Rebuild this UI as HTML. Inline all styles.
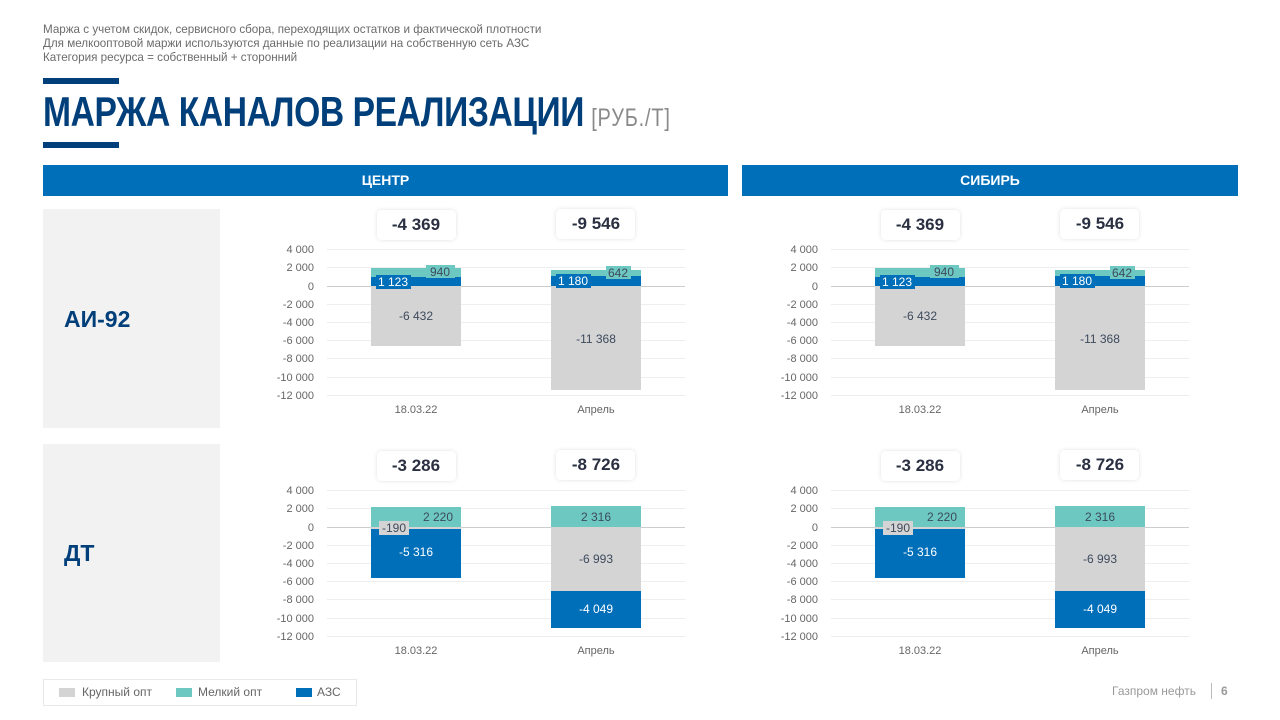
<!DOCTYPE html>
<html><head><meta charset="utf-8"><style>
*{margin:0;padding:0;box-sizing:border-box}
body{width:1280px;height:720px;background:#fff;position:relative;overflow:hidden;font-family:"Liberation Sans",sans-serif}
.a{position:absolute}
.sub{left:43px;font-size:12px;color:#6b6b6b;line-height:14px;transform:scaleX(0.97);transform-origin:left;white-space:nowrap}
.bar{background:#003f7a;height:6px;width:76px;left:43px}
.hdr{background:#006fba;color:#fff;font-weight:bold;font-size:14px;text-align:center;line-height:31px;top:165px;height:31px}
.gp{background:#f2f2f2;left:43px;width:177px}
.rl{left:64px;color:#003f7a;font-weight:bold;font-size:23px}
</style></head><body>
<div class="a sub" style="top:22px">Маржа с учетом скидок, сервисного сбора, переходящих остатков и фактической плотности</div>
<div class="a sub" style="top:36px">Для мелкооптовой маржи используются данные по реализации на собственную сеть АЗС</div>
<div class="a sub" style="top:50px">Категория ресурса = собственный + сторонний</div>
<div class="a bar" style="top:78px"></div>
<div class="a bar" style="top:142px"></div>
<div class="a" style="left:43px;top:88px;white-space:nowrap;transform:scaleX(0.8);transform-origin:left"><span style="font-size:42px;font-weight:bold;color:#003f7a;letter-spacing:-0.5px">МАРЖА КАНАЛОВ РЕАЛИЗАЦИИ</span><span style="font-size:25px;color:#8a8a8a;margin-left:9px;letter-spacing:1px">[РУБ./Т]</span></div>
<div class="a hdr" style="left:43px;width:685px">ЦЕНТР</div>
<div class="a hdr" style="left:742px;width:496px">СИБИРЬ</div>
<div class="a gp" style="top:209px;height:219px"></div>
<div class="a gp" style="top:444px;height:218px"></div>
<div class="a rl" style="top:306px">АИ-92</div>
<div class="a rl" style="top:540px">ДТ</div>

<svg class="a" style="left:0;top:0" width="1280" height="720" font-family="Liberation Sans, sans-serif">
<defs>
<filter id="sh" x="-20%" y="-30%" width="140%" height="160%"><feDropShadow dx="0" dy="0" stdDeviation="2" flood-color="#000" flood-opacity="0.12"/></filter>
<g id="axis" font-size="11" fill="#666" text-anchor="end">
 <g stroke="#eee" stroke-width="1">
 <line x1="327" x2="685" y1="249.5" y2="249.5"/><line x1="327" x2="685" y1="267.5" y2="267.5"/>
 <line x1="327" x2="685" y1="304.5" y2="304.5"/><line x1="327" x2="685" y1="322.5" y2="322.5"/>
 <line x1="327" x2="685" y1="340.5" y2="340.5"/><line x1="327" x2="685" y1="358.5" y2="358.5"/>
 <line x1="327" x2="685" y1="377.5" y2="377.5"/><line x1="327" x2="685" y1="395.5" y2="395.5"/>
 </g>
 <line x1="327" x2="685" y1="286.5" y2="286.5" stroke="#ccc"/>
 <text x="314" y="253">4 000</text><text x="314" y="271">2 000</text><text x="314" y="290">0</text>
 <text x="314" y="308">-2 000</text><text x="314" y="326">-4 000</text><text x="314" y="344">-6 000</text>
 <text x="314" y="362">-8 000</text><text x="314" y="381">-10 000</text><text x="314" y="399">-12 000</text>
 <text x="416" y="413" text-anchor="middle">18.03.22</text><text x="596" y="413" text-anchor="middle">Апрель</text>
</g>
<g id="ai">
 <use href="#axis"/>
 <rect x="371" y="286" width="90" height="60" fill="#d4d4d4"/>
 <rect x="371" y="277" width="90" height="9" fill="#006fba"/>
 <rect x="371" y="268" width="90" height="9" fill="#6dc8c2"/>
 <rect x="376" y="275" width="35" height="14" fill="#006fba"/>
 <rect x="426" y="265" width="29" height="13" fill="#6dc8c2"/>
 <rect x="551" y="286" width="90" height="104" fill="#d4d4d4"/>
 <rect x="551" y="276" width="90" height="10" fill="#006fba"/>
 <rect x="551" y="270" width="90" height="6" fill="#6dc8c2"/>
 <rect x="556" y="274" width="35" height="14" fill="#006fba"/>
 <rect x="606" y="266" width="25" height="13" fill="#6dc8c2"/>
 <g font-size="12" text-anchor="middle">
 <text x="393" y="286" fill="#fff">1 123</text><text x="440" y="276" fill="#3d4a5c">940</text>
 <text x="416" y="320" fill="#3d4a5c">-6 432</text>
 <text x="573" y="285" fill="#fff">1 180</text><text x="618" y="277" fill="#3d4a5c">642</text>
 <text x="596" y="343" fill="#3d4a5c">-11 368</text>
 </g>
 <g filter="url(#sh)"><rect x="377" y="210" width="79" height="30" rx="5" fill="#fff"/><rect x="556" y="209" width="79" height="30" rx="5" fill="#fff"/></g>
 <g font-size="17" font-weight="bold" fill="#2a3042" text-anchor="middle"><text x="416" y="230">-4 369</text><text x="596" y="229">-9 546</text></g>
</g>
<g id="dt">
 <g transform="translate(0,241)"><use href="#axis"/></g>
 <rect x="371" y="507" width="90" height="20" fill="#6dc8c2"/>
 <rect x="371" y="527" width="90" height="2" fill="#d4d4d4"/>
 <rect x="371" y="529" width="90" height="49" fill="#006fba"/>
 <rect x="379" y="521" width="30" height="14" fill="#d4d4d4"/>
 <rect x="551" y="506" width="90" height="21" fill="#6dc8c2"/>
 <rect x="551" y="527" width="90" height="64" fill="#d4d4d4"/>
 <rect x="551" y="591" width="90" height="37" fill="#006fba"/>
 <g font-size="12" text-anchor="middle">
 <text x="394" y="532" fill="#3d4a5c">-190</text><text x="438" y="521" fill="#3d4a5c">2 220</text>
 <text x="416" y="556" fill="#fff">-5 316</text>
 <text x="596" y="521" fill="#3d4a5c">2 316</text><text x="596" y="563" fill="#3d4a5c">-6 993</text>
 <text x="596" y="613" fill="#fff">-4 049</text>
 </g>
 <g filter="url(#sh)"><rect x="377" y="451" width="79" height="30" rx="5" fill="#fff"/><rect x="556" y="450" width="79" height="30" rx="5" fill="#fff"/></g>
 <g font-size="17" font-weight="bold" fill="#2a3042" text-anchor="middle"><text x="416" y="471">-3 286</text><text x="596" y="470">-8 726</text></g>
</g>
</defs>
<use href="#ai"/>
<use href="#dt"/>
<g transform="translate(504,0)"><use href="#ai"/><use href="#dt"/></g>
</svg>

<div class="a" style="left:43px;top:679px;width:314px;height:27px;border:1px solid #e8e8e8;font-size:12px;color:#666">
 <div class="a" style="left:15px;top:8px;width:16px;height:9px;background:#d4d4d4"></div><div class="a" style="left:38px;top:5px">Крупный опт</div>
 <div class="a" style="left:132px;top:8px;width:16px;height:9px;background:#6dc8c2"></div><div class="a" style="left:154px;top:5px">Мелкий опт</div>
 <div class="a" style="left:252px;top:8px;width:16px;height:9px;background:#006fba"></div><div class="a" style="left:273px;top:5px">АЗС</div>
</div>
<div class="a" style="left:1112px;top:684px;font-size:12px;color:#999">Газпром нефть</div>
<div class="a" style="left:1211px;top:683px;width:1px;height:16px;background:#bbb"></div>
<div class="a" style="left:1221px;top:684px;font-size:12px;color:#999;font-weight:bold">6</div>
</body></html>
